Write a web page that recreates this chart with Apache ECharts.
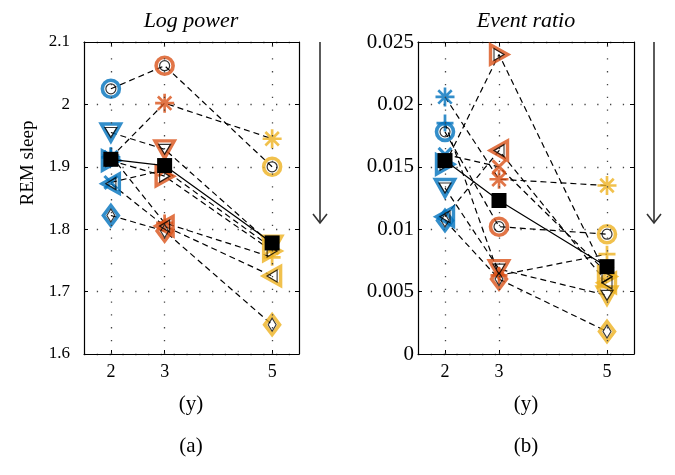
<!DOCTYPE html>
<html><head><meta charset="utf-8">
<script src="https://cdn.jsdelivr.net/npm/echarts@6/dist/echarts.min.js"></script>
<style>html,body{margin:0;padding:0;background:#fff}#c{width:675px;height:475px}</style>
</head><body><div id="c"></div>
<script>
// ---- data ----
const AGES = [2, 3, 5];
const X_TICKS = [2, 3, 5];
const AGE_COLORS = ['#0072BD', '#D95319', '#EDB120'];
const SUBJECT_MARKERS = ['circle', 'asterisk', 'downTri', 'rightTri', 'leftTri', 'diamond', 'plus', 'cross'];
const PANEL_TITLES = ['Log power', 'Event ratio'];
const PANEL_LETTERS = ['(a)', '(b)'];
const Y_LABEL = 'REM sleep';
const X_LABEL = '(y)';

const LOG_POWER_AGE2 = [2.025, 1.915, 1.955, 1.910, 1.873, 1.822, 1.918, 1.875];
const LOG_POWER_AGE3 = [2.062, 2.002, 1.928, 1.885, 1.805, 1.797, 1.810, 1.895];
const LOG_POWER_AGE5 = [1.900, 1.945, 1.775, 1.765, 1.725, 1.647, 1.755, 1.770];
const LOG_POWER_MEAN = [1.912, 1.902, 1.778];

const EVENT_RATIO_AGE2 = [0.0178, 0.0206, 0.0133, 0.0152, 0.0110, 0.0107, 0.0185, 0.0160];
const EVENT_RATIO_AGE3 = [0.0102, 0.0140, 0.0068, 0.0240, 0.0163, 0.0060, 0.0063, 0.0150];
const EVENT_RATIO_AGE5 = [0.0096, 0.0135, 0.0047, 0.0062, 0.0057, 0.0018, 0.0080, 0.0065];
const EVENT_RATIO_MEAN = [0.0155, 0.0123, 0.0070];

const Y_RANGES = [[1.6, 2.1, 0.1], [0, 0.025, 0.005]];

// ---- symbols ----
function bars(angles, hw) {
  let p = '';
  angles.forEach(a => {
    const r = a * Math.PI / 180, dx = Math.cos(r), dy = Math.sin(r), nx = -dy, ny = dx;
    const pts = [[-dx - hw * nx, -dy - hw * ny], [dx - hw * nx, dy - hw * ny], [dx + hw * nx, dy + hw * ny], [-dx + hw * nx, -dy + hw * ny]];
    p += 'M' + pts.map(q => q[0].toFixed(3) + ',' + q[1].toFixed(3)).join('L') + 'Z';
  });
  return 'path://' + p;
}
const SYM = {
  circle: { symbol: 'circle', size: 17, filled: false },
  diamond: { symbol: 'diamond', size: [15, 20], filled: false },
  downTri: { symbol: 'path://M-1,-0.866L1,-0.866L0,0.866Z', size: [19, 17], filled: false },
  rightTri: { symbol: 'path://M-0.866,-1L-0.866,1L0.866,0Z', size: [17, 19], filled: false },
  leftTri: { symbol: 'path://M0.866,-1L0.866,1L-0.866,0Z', size: [17, 19], filled: false },
  plus: { symbol: bars([0, 90], 0.16), size: 17, filled: true },
  asterisk: { symbol: bars([0, 45, 90, 135], 0.14), size: 19, filled: true },
  cross: { symbol: bars([45, 135], 0.17), size: 15, filled: true }
};
function shrink(s, d) { return Array.isArray(s) ? [s[0] - d, s[1] - d] : s - d; }

const FONT = '"Liberation Serif", "Times New Roman", serif';
const panels = [
  { grid: { left: 84, top: 42, width: 215, height: 312 }, cols: [LOG_POWER_AGE2, LOG_POWER_AGE3, LOG_POWER_AGE5], mean: LOG_POWER_MEAN, labelSize: 17, margin: 14 },
  { grid: { left: 418, top: 42, width: 216, height: 312 }, cols: [EVENT_RATIO_AGE2, EVENT_RATIO_AGE3, EVENT_RATIO_AGE5], mean: EVENT_RATIO_MEAN, labelSize: 21, margin: 4 }
];

const grids = [], xAxes = [], yAxes = [], series = [];
panels.forEach((P, p) => {
  grids.push(P.grid);
  const [ymin, ymax, yint] = Y_RANGES[p];
  xAxes.push({
    gridIndex: p, type: 'value', min: 1.5, max: 5.5, position: 'bottom',
    axisLine: { show: true, onZero: false, lineStyle: { color: '#000', width: 1.2 } },
    axisTick: { show: true, inside: true, length: 4, customValues: X_TICKS, lineStyle: { color: '#000' } },
    axisLabel: { show: true, customValues: X_TICKS, color: '#000', fontFamily: FONT, fontSize: 18, margin: 9 },
    splitLine: { show: false }
  });
  xAxes.push({
    gridIndex: p, type: 'value', min: 1.5, max: 5.5, position: 'top',
    axisLine: { show: true, onZero: false, lineStyle: { color: '#000', width: 1.2 } },
    axisTick: { show: true, inside: true, length: 4, customValues: X_TICKS, lineStyle: { color: '#000' } },
    axisLabel: { show: false }, splitLine: { show: false }
  });
  yAxes.push({
    gridIndex: p, type: 'value', min: ymin, max: ymax, interval: yint, position: 'left',
    axisLine: { show: true, onZero: false, lineStyle: { color: '#000', width: 1.2 } },
    axisTick: { show: true, inside: true, length: 4, lineStyle: { color: '#000' } },
    axisLabel: { color: '#000', fontFamily: FONT, fontSize: P.labelSize, margin: P.margin },
    splitLine: { show: true, lineStyle: { color: '#444', width: 1.3, type: [1.3, 11.5] } }
  });
  yAxes.push({
    gridIndex: p, type: 'value', min: ymin, max: ymax, interval: yint, position: 'right',
    axisLine: { show: true, onZero: false, lineStyle: { color: '#000', width: 1.2 } },
    axisTick: { show: true, inside: true, length: 4, lineStyle: { color: '#000' } },
    axisLabel: { show: false }, splitLine: { show: false }
  });
  const xi = 2 * p, yi = 2 * p;
  series.push({
    type: 'line', xAxisIndex: xi, yAxisIndex: yi, data: [], silent: true,
    markLine: { silent: true, symbol: 'none', label: { show: false },
      lineStyle: { color: '#444', width: 1.3, type: [1.3, 11.5] },
      data: X_TICKS.map(v => ({ xAxis: v })) }
  });
  const outer = [], inner = [];
  SUBJECT_MARKERS.forEach((m, s) => {
    const vals = P.cols.map(c => c[s]);
    series.push({
      type: 'line', xAxisIndex: xi, yAxisIndex: yi, z: 2, silent: true,
      symbol: 'none', data: AGES.map((a, i) => [a, vals[i]]),
      lineStyle: { color: '#000', width: 1.2, type: [6, 4] }
    });
    const S = SYM[m];
    AGES.forEach((a, i) => {
      if (S.filled) {
        outer.push({ value: [a, vals[i]], symbol: S.symbol, symbolSize: S.size, itemStyle: { color: AGE_COLORS[i], borderWidth: 0 } });
      } else {
        outer.push({ value: [a, vals[i]], symbol: S.symbol, symbolSize: S.size, itemStyle: { color: 'rgba(0,0,0,0)', borderColor: AGE_COLORS[i], borderWidth: 3.6 } });
        inner.push({ value: [a, vals[i]], symbol: S.symbol, symbolSize: shrink(S.size, 7), itemStyle: { color: 'rgba(0,0,0,0)', borderColor: '#000', borderWidth: 1.2 } });
      }
    });
  });
  series.push({ type: 'scatter', xAxisIndex: xi, yAxisIndex: yi, z: 3, silent: true, data: outer });
  series.push({ type: 'scatter', xAxisIndex: xi, yAxisIndex: yi, z: 4, silent: true, data: inner });
  series.push({
    type: 'line', xAxisIndex: xi, yAxisIndex: yi, z: 5, silent: true,
    data: AGES.map((a, i) => [a, P.mean[i]]),
    symbol: 'rect', symbolSize: 15, showAllSymbol: true,
    itemStyle: { color: '#000' }, lineStyle: { color: '#000', width: 1.2, type: 'solid' }
  });
});

function txt(t, x, y, size, italic, rot) {
  return { type: 'text', x: x, y: y, rotation: rot || 0, silent: true,
    style: { text: t, x: 0, y: 0, fill: '#000', fontFamily: FONT, fontSize: size, fontStyle: italic ? 'italic' : 'normal',
      align: 'center', verticalAlign: 'middle', textAlign: 'center', textVerticalAlign: 'middle' } };
}
function arrow(x) {
  return [
    { type: 'line', silent: true, shape: { x1: x, y1: 42, x2: x, y2: 223 }, style: { stroke: '#333', lineWidth: 1.6 } },
    { type: 'polyline', silent: true, shape: { points: [[x - 7, 214], [x, 223], [x + 7, 214]] }, style: { stroke: '#333', lineWidth: 1.6, fill: null } }
  ];
}
const graphic = [
  txt(PANEL_TITLES[0], 191, 21, 22, true), txt(PANEL_TITLES[1], 526, 21, 22, true),
  txt(Y_LABEL, 28, 163, 19, false, Math.PI / 2),
  txt(X_LABEL, 191, 404, 21), txt(X_LABEL, 526, 404, 21),
  txt(PANEL_LETTERS[0], 191, 446, 21), txt(PANEL_LETTERS[1], 526, 446, 21)
].concat(arrow(320), arrow(654));

const chart = echarts.init(document.getElementById('c'), null, { renderer: 'canvas' });
chart.setOption({ animation: false, backgroundColor: '#fff', grid: grids, xAxis: xAxes, yAxis: yAxes, series: series, graphic: graphic });
</script></body></html>
